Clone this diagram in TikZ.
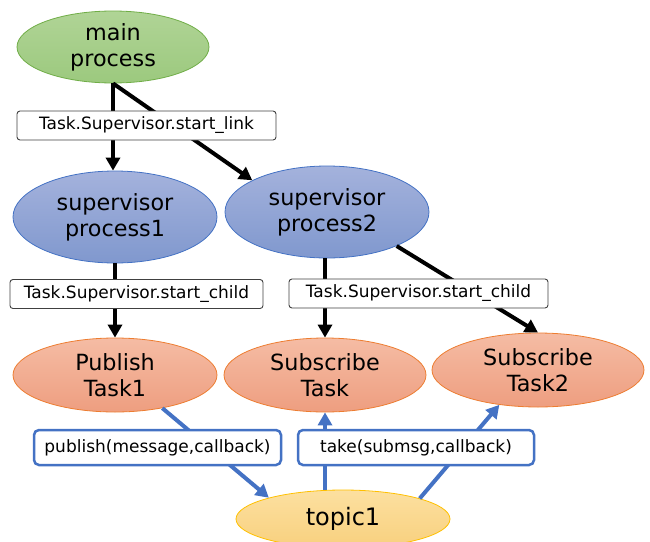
\documentclass[tikz,border=0pt]{standalone}
\usepackage{fontspec}
\setmainfont{DejaVu Sans}
\usetikzlibrary{shapes.geometric,arrows.meta}
\definecolor{gtop}{RGB}{176,212,150}
\definecolor{gbot}{RGB}{156,201,126}
\definecolor{gline}{RGB}{112,173,71}
\definecolor{btop}{RGB}{164,178,220}
\definecolor{bbot}{RGB}{128,152,206}
\definecolor{bline}{RGB}{68,114,196}
\definecolor{otop}{RGB}{245,188,164}
\definecolor{obot}{RGB}{238,158,128}
\definecolor{oline}{RGB}{237,125,49}
\definecolor{ytop}{RGB}{252,224,160}
\definecolor{ybot}{RGB}{248,208,126}
\definecolor{yline}{RGB}{255,192,0}
\definecolor{lblline}{RGB}{64,64,64}
\tikzset{
  proc/.style={ellipse, inner sep=0pt, align=center, line width=0.8pt,
    font=\fontsize{22.3}{26}\selectfont},
  greenproc/.style={proc, draw=gline, top color=gtop, bottom color=gbot},
  blueproc/.style={proc, draw=bline, top color=btop, bottom color=bbot},
  orangeproc/.style={proc, draw=oline, top color=otop, bottom color=obot},
  yellowproc/.style={proc, draw=yline, top color=ytop, bottom color=ybot},
  lbl/.style={draw=lblline, fill=white, rounded corners=3pt, line width=0.9pt,
    inner sep=0pt, font=\fontsize{17}{20}\selectfont},
  bluelbl/.style={draw=bline, fill=white, rounded corners=5pt, line width=2.5pt,
    inner sep=0pt, font=\fontsize{17}{20}\selectfont},
  blk/.style={line width=4pt, -{Triangle[length=13pt,width=14pt]}},
  blu/.style={line width=4pt, draw=bline, -{Triangle[length=13pt,width=14pt]}},
}
\begin{document}
\begin{tikzpicture}[x=1pt,y=-1pt]
\useasboundingbox (0,0) rectangle (650,541);
\clip (0,0) rectangle (650,541);
\node[greenproc, minimum width=192, minimum height=72] (main) at (113,47) {main\\process};
\node[blueproc, minimum width=204, minimum height=92] (sup1) at (115,217) {supervisor\\process1};
\node[blueproc, minimum width=204, minimum height=92] (sup2) at (327,212) {supervisor\\process2};
\node[orangeproc, minimum width=204, minimum height=74] (pub1) at (115,375) {Publish\\Task1};
\node[orangeproc, minimum width=202, minimum height=74] (sub) at (325,375) {Subscribe\\Task};
\node[orangeproc, minimum width=212, minimum height=74] (sub2) at (538,370) {Subscribe\\Task2};
\node[yellowproc, minimum width=214, minimum height=58, font=\fontsize{24}{26}\selectfont] (topic) at (343,519) {topic1};

\draw[blk] (main.south) -- (main.south |- sup1.north);
\draw[blk] (main.south) -- (sup2.157);
\draw[blk] (sup1.south) -- (sup1.south |- pub1.north);
\draw[blk] (sub.north |- sup2.south) -- (sub.north);
\draw[blk] (sup2.-26) -- (sub2.north);
\draw[blu] (pub1.-35) -- (topic.164);
\draw[blu] (sub.south |- topic.north) -- (sub.south);
\draw[blu] (topic.15) -- (sub2.222);

\node[lbl, minimum width=259, minimum height=29] (lk) at (146.5,125.5) {Task.Supervisor.start\_link};
\node[lbl, minimum width=253, minimum height=29] (ch1) at (136.5,294) {Task.Supervisor.start\_child};
\node[lbl, minimum width=259, minimum height=29] (ch2) at (418.5,293.5) {Task.Supervisor.start\_child};
\node[bluelbl, minimum width=247, minimum height=35] (pb) at (157.5,447.5) {publish(message,callback)};
\node[bluelbl, minimum width=236, minimum height=35] (tk) at (416,447.5) {take(submsg,callback)};
\end{tikzpicture}
\end{document}
